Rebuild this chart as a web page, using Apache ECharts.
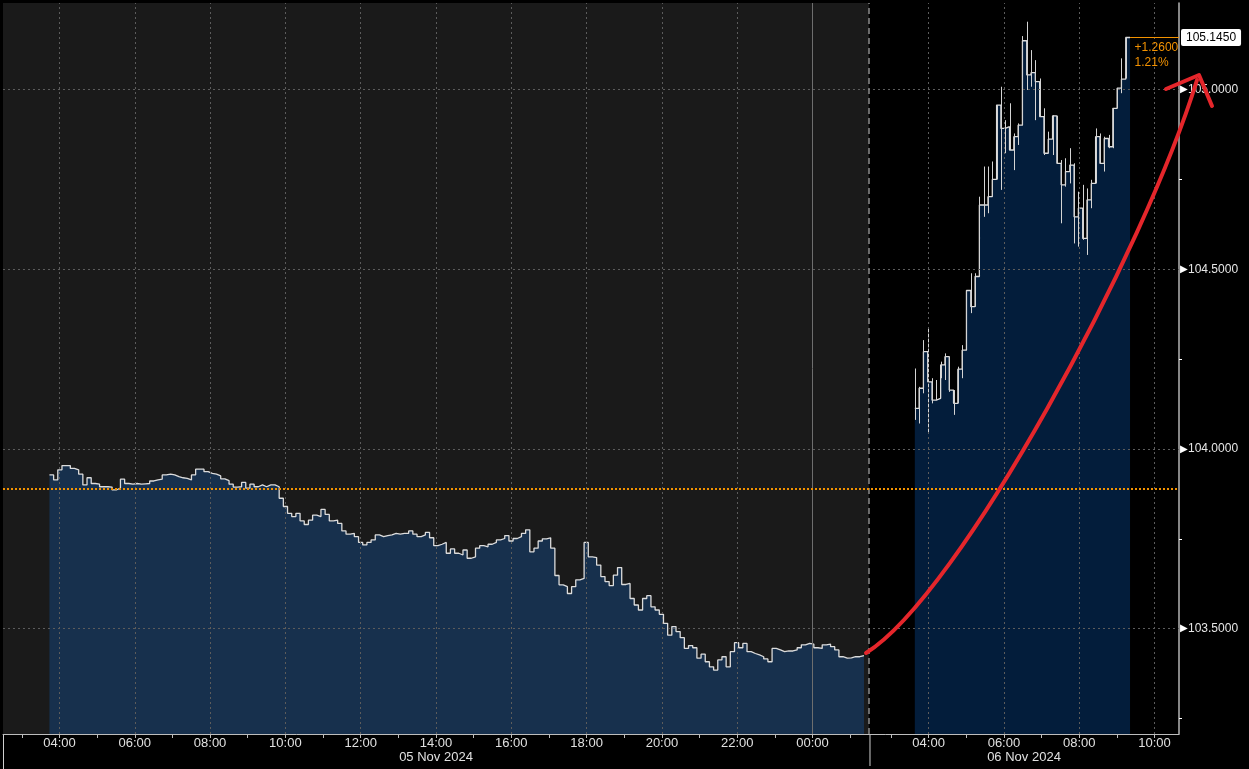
<!DOCTYPE html>
<html>
<head>
<meta charset="utf-8">
<script src="https://cdn.jsdelivr.net/npm/echarts@6.0.0/dist/echarts.min.js"></script>
<style>
  html, body { margin: 0; padding: 0; background: #000; }
  #chart { width: 1249px; height: 769px; }
</style>
</head>
<body>
<div id="chart"></div>
<script>
// 05 Nov session, bar closes from 03:44 to 01:22 (next day)
const day1Start = '03:44';
const day1End = '01:22';
const day1Close = [
  103.928, 103.914, 103.942, 103.954, 103.954, 103.946, 103.942, 103.930, 103.900, 103.920,
  103.904, 103.902, 103.895, 103.895, 103.894, 103.886, 103.891, 103.916, 103.904, 103.902,
  103.904, 103.902, 103.903, 103.904, 103.911, 103.914, 103.916, 103.928, 103.930, 103.928,
  103.923, 103.920, 103.918, 103.914, 103.928, 103.944, 103.944, 103.937, 103.932, 103.930,
  103.925, 103.917, 103.912, 103.902, 103.894, 103.895, 103.907, 103.891, 103.902, 103.895,
  103.900, 103.895, 103.900, 103.900, 103.895, 103.863, 103.840, 103.821, 103.812, 103.821,
  103.800, 103.790, 103.802, 103.816, 103.812, 103.832, 103.818, 103.800, 103.802, 103.793,
  103.772, 103.763, 103.765, 103.756, 103.740, 103.733, 103.740, 103.747, 103.761, 103.756,
  103.759, 103.761, 103.765, 103.763, 103.765, 103.765, 103.772, 103.763, 103.756, 103.761,
  103.768, 103.753, 103.731, 103.735, 103.740, 103.710, 103.722, 103.710, 103.705, 103.719,
  103.696, 103.700, 103.724, 103.731, 103.728, 103.735, 103.740, 103.747, 103.751, 103.759,
  103.744, 103.751, 103.756, 103.765, 103.775, 103.714, 103.724, 103.744, 103.750, 103.753,
  103.724, 103.648, 103.622, 103.617, 103.598, 103.617, 103.636, 103.640, 103.740, 103.700,
  103.698, 103.677, 103.645, 103.631, 103.620, 103.649, 103.670, 103.623, 103.626, 103.584,
  103.566, 103.552, 103.584, 103.592, 103.561, 103.552, 103.540, 103.515, 103.482, 103.506,
  103.492, 103.475, 103.445, 103.453, 103.447, 103.418, 103.429, 103.408, 103.394, 103.385,
  103.413, 103.422, 103.394, 103.436, 103.461, 103.447, 103.459, 103.436, 103.431, 103.427,
  103.422, 103.416, 103.408, 103.445, 103.441, 103.436, 103.438, 103.438, 103.441, 103.447,
  103.455, 103.459, 103.457, 103.447, 103.445, 103.455, 103.457, 103.450, 103.441, 103.422,
  103.418, 103.419, 103.422, 103.422, 103.425
];

// 06 Nov session, 03:38 to 09:21
const day2Start = '03:38';
const day2End = '09:21';
const day2Close = [
  104.113, 104.169, 104.271, 104.187, 104.136, 104.141, 104.234, 104.257, 104.164, 104.127,
  104.222, 104.275, 104.441, 104.396, 104.480, 104.679, 104.679, 104.702, 104.750, 104.957,
  104.892, 104.897, 104.832, 104.869, 104.901, 105.136, 105.041, 105.047, 105.022, 104.925,
  104.823, 104.862, 104.927, 104.795, 104.735, 104.772, 104.790, 104.646, 104.670, 104.586,
  104.693, 104.739, 104.869, 104.795, 104.864, 104.841, 104.948, 105.004, 105.029, 105.145
];
const day2High = [
  104.224, 104.173, 104.303, 104.336, 104.197, 104.192, 104.243, 104.266, 104.257, 104.164,
  104.229, 104.289, 104.441, 104.489, 104.489, 104.702, 104.786, 104.786, 104.800, 104.957,
  105.008, 104.915, 104.962, 104.878, 104.906, 105.149, 105.189, 105.110, 105.082, 105.031,
  104.948, 104.883, 104.929, 104.927, 104.804, 104.809, 104.837, 104.795, 104.716, 104.735,
  104.725, 104.749, 104.892, 104.878, 104.869, 104.874, 104.948, 105.004, 105.087, 105.145
];
const day2Low = [
  104.081, 104.071, 104.155, 104.044, 104.127, 104.136, 104.197, 104.192, 104.159, 104.095,
  104.127, 104.197, 104.275, 104.378, 104.396, 104.480, 104.646, 104.656, 104.711, 104.750,
  104.721, 104.823, 104.832, 104.776, 104.846, 104.901, 104.999, 105.008, 104.915, 104.925,
  104.818, 104.823, 104.818, 104.793, 104.628, 104.730, 104.739, 104.572, 104.563, 104.582,
  104.540, 104.670, 104.739, 104.795, 104.772, 104.837, 104.837, 104.948, 104.990, 105.031
];

const prevClose = 103.885;
const yTicks = [103.5, 104.0, 104.5, 105.0];
const day1Labels = ['04:00', '06:00', '08:00', '10:00', '12:00', '14:00', '16:00', '18:00', '20:00', '22:00', '00:00'];
const day2Labels = ['04:00', '06:00', '08:00', '10:00'];
const dateLabels = ['05 Nov 2024', '06 Nov 2024'];

// x axis is minutes from 05 Nov 00:00, with the night gap squeezed out
const GAP = 55;
const BREAK = 1530;
const X_MIN = 150, X_MAX = 2024;
const Y_MIN = 103.207, Y_MAX = 105.241;
const FONT = '"Liberation Sans", Arial, sans-serif';
const ORANGE = '#f39200';

function hm(s) { const p = s.split(':').map(Number); return p[0] * 60 + p[1]; }
function s1(s) { let m = hm(s); if (m < 180) m += 1440; return m; }
function s2(s) { return 1440 + hm(s) - GAP; }

function steps(values, start, end) {
  const w = (end - start) / values.length;
  const pts = values.map((v, i) => [start + i * w, v]);
  pts.push([end, values[values.length - 1]]);
  return pts;
}

const d1Pts = steps(day1Close, s1(day1Start), s1(day1End));
const d2Pts = steps(day2Close, s2(day2Start), s2(day2End));
const w2 = (s2(day2End) - s2(day2Start)) / day2Close.length;
const wicks = day2High.map((h, i) => [s2(day2Start) + i * w2, day2Low[i], h]);

const last = day2Close[day2Close.length - 1];
const chg = last - prevClose;
const pct = chg / prevClose * 100;

const labelMap = {};
day1Labels.forEach(l => { labelMap[s1(l)] = l; });
day2Labels.forEach(l => { labelMap[s2(l)] = l; });
const labelVals = Object.keys(labelMap).map(Number);

const hourTicks = [];
for (let h = 3; h <= 25; h++) hourTicks.push(h * 60);
for (let h = 3; h <= 10; h++) hourTicks.push(1440 + h * 60 - GAP);

const minorY = yTicks.map(v => v - 0.25).concat([yTicks[yTicks.length - 1] + 0.25]);

const dotted = { color: '#5c5c5c', type: [2, 3], width: 1 };
const gridLines = yTicks.map(v => ({ yAxis: v, lineStyle: dotted }))
  .concat(labelVals.map(v => ({
    xAxis: v,
    lineStyle: labelMap[v] === '00:00' ? { color: '#6e6e6e', type: 'solid', width: 1 } : dotted
  })))
  .concat([{ xAxis: BREAK, lineStyle: { color: '#8a8a8a', type: [6, 4], width: 1.5 } }]);

const chart = echarts.init(document.getElementById('chart'));

chart.setOption({
  animation: false,
  backgroundColor: '#000',
  grid: { left: 3, right: 70, top: 3, bottom: 35 },
  xAxis: {
    type: 'value',
    min: X_MIN,
    max: X_MAX,
    axisLine: { lineStyle: { color: '#bdbdbd', width: 1 } },
    axisTick: { customValues: hourTicks, length: 4, lineStyle: { color: '#bdbdbd' } },
    axisLabel: {
      customValues: labelVals,
      formatter: v => labelMap[Math.round(v)] || '',
      color: '#e0e0e0', fontSize: 13, fontFamily: FONT, margin: 3
    },
    splitLine: { show: false }
  },
  yAxis: {
    type: 'value',
    position: 'right',
    min: Y_MIN,
    max: Y_MAX,
    axisLine: { show: true, lineStyle: { color: '#b5b5b5', width: 1.5 } },
    axisTick: { show: true, customValues: minorY, length: 3, lineStyle: { color: '#fff' } },
    axisLabel: {
      customValues: yTicks,
      formatter: v => '{t|▶}' + v.toFixed(4),
      color: '#e6e6e6', fontSize: 12, fontFamily: FONT, margin: 1,
      rich: { t: { fontSize: 10, color: '#fff', padding: [0, 0, 0, 0] } }
    },
    splitLine: { show: false }
  },
  series: [
    {
      type: 'line', data: [], z: 1, silent: true,
      markArea: {
        silent: true,
        itemStyle: { color: '#1a1a1a' },
        data: [[{ xAxis: X_MIN }, { xAxis: BREAK }]]
      }
    },
    {
      type: 'line', data: d1Pts, step: 'end', showSymbol: false, z: 2,
      lineStyle: { color: '#dcdcdc', width: 1.3 },
      areaStyle: { color: '#17304d', opacity: 1, origin: 'start' }
    },
    {
      type: 'line', data: d2Pts, step: 'end', showSymbol: false, z: 2,
      lineStyle: { color: '#dcdcdc', width: 1.3 },
      areaStyle: { color: '#031d3b', opacity: 1, origin: 'start' }
    },
    {
      type: 'custom', data: wicks, z: 3,
      encode: { x: 0, y: [1, 2] },
      renderItem: (params, api) => {
        const a = api.coord([api.value(0), api.value(1)]);
        const b = api.coord([api.value(0), api.value(2)]);
        const x = Math.round(a[0]) + 0.5;
        return {
          type: 'line',
          shape: { x1: x, y1: a[1], x2: x, y2: b[1] },
          style: { stroke: '#d4d4d4', lineWidth: 1 }
        };
      }
    },
    {
      type: 'line', data: [], z: 4, silent: true,
      markLine: {
        silent: true, symbol: ['none', 'none'], label: { show: false },
        data: gridLines
      }
    },
    {
      type: 'line', data: [], z: 5, silent: true,
      markLine: {
        silent: true, symbol: ['none', 'none'],
        data: [
          { yAxis: prevClose, label: { show: false }, lineStyle: { color: ORANGE, type: [2, 2], width: 2 } },
          [
            { coord: [s2(day2End), last] },
            {
              coord: [X_MAX, last],
              label: {
                show: true, position: 'end', distance: 2,
                formatter: last.toFixed(4),
                backgroundColor: '#fff', color: '#000', borderRadius: 2,
                padding: [3, 5, 2, 5], fontSize: 12, fontFamily: FONT
              }
            }
          ]
        ],
        lineStyle: { color: ORANGE, type: 'solid', width: 1 }
      },
      markPoint: {
        silent: true, symbol: 'circle', symbolSize: 1,
        itemStyle: { color: 'rgba(0,0,0,0)' },
        data: [{
          coord: [s2(day2End), last],
          label: {
            show: true, position: [5, 3], align: 'left', verticalAlign: 'top',
            formatter: (chg >= 0 ? '+' : '') + chg.toFixed(4) + '\n' + pct.toFixed(2) + '%',
            color: ORANGE, fontSize: 12, lineHeight: 15, fontFamily: FONT
          }
        }]
      }
    }
  ]
});

// separators under the axis, date labels and the hand-drawn red arrow
const xAt = v => chart.convertToPixel({ xAxisIndex: 0 }, v);
const axisY = chart.convertToPixel({ yAxisIndex: 0 }, Y_MIN);
const xBreak = xAt(BREAK);
chart.setOption({
  graphic: [
    { type: 'line', shape: { x1: xAt(X_MIN) + 0.5, y1: axisY, x2: xAt(X_MIN) + 0.5, y2: 769 }, style: { stroke: '#d0d0d0', lineWidth: 1 } },
    { type: 'line', shape: { x1: xBreak + 1, y1: axisY, x2: xBreak + 1, y2: 766 }, style: { stroke: '#d0d0d0', lineWidth: 1 } },
    {
      type: 'text', x: (xAt(X_MIN) + xBreak) / 2, y: 757,
      style: { text: dateLabels[0], fill: '#e0e0e0', font: '13px ' + FONT, align: 'center', verticalAlign: 'middle' }
    },
    {
      type: 'text', x: (xBreak + xAt(X_MAX)) / 2, y: 757,
      style: { text: dateLabels[1], fill: '#e0e0e0', font: '13px ' + FONT, align: 'center', verticalAlign: 'middle' }
    },
    {
      type: 'bezierCurve', z: 100,
      shape: { x1: 866, y1: 653, cpx1: 960, cpy1: 595, cpx2: 1145, cpy2: 250, x2: 1197, y2: 80 },
      style: { stroke: '#e5262b', lineWidth: 4, fill: null, lineCap: 'round' }
    },
    {
      type: 'polyline', z: 100,
      shape: { points: [[1166, 89], [1199, 75], [1212, 106]] },
      style: { stroke: '#e5262b', lineWidth: 4, fill: null, lineCap: 'round', lineJoin: 'round' }
    }
  ]
});
</script>
</body>
</html>
